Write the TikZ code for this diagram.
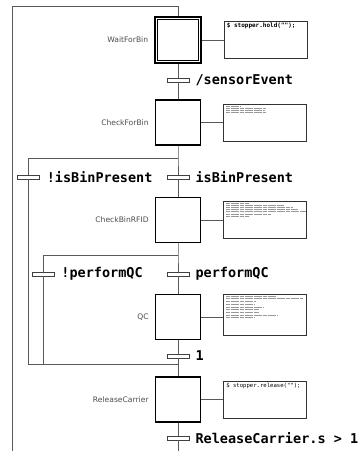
\documentclass[tikz,border=0pt]{standalone}
\usepackage{fontspec}
\setmainfont{DejaVu Sans}
\newfontfamily\monofont{DejaVu Sans Mono}
\usetikzlibrary{positioning}
\tikzset{
  stepbox/.style={
    rectangle, draw=black, line width=1.3pt,
    minimum size=45pt, inner sep=0pt, fill=white
  },
  initstep/.style={stepbox, minimum size=46pt},
  actbox/.style={
    rectangle, draw=black!80, line width=0.8pt,
    minimum width=83pt, minimum height=37pt, inner sep=0pt
  },
  trans/.style={
    rectangle, draw=black!75, line width=0.8pt, fill=white,
    minimum width=22pt, minimum height=4pt, inner sep=0pt
  },
  translabel/.style={font=\monofont\bfseries\fontsize{13.5}{14}\selectfont, inner sep=0pt},
  steplabel/.style={font=\fontsize{7.6}{8}\selectfont, text=black!70, inner sep=0pt},
  codetext/.style={anchor=north west, inner sep=0pt, font=\monofont\fontsize{5.6}{6}\selectfont},
  flow/.style={draw=black!65, line width=0.9pt},
  link/.style={draw=black!65, line width=0.8pt},
  scribble/.style={draw=black!40, line width=0.5pt, dash pattern=on 4pt off 0.6pt}
}

\begin{document}
\begin{tikzpicture}[x=1pt, y=-1pt, node distance=22pt]

  \useasboundingbox (0,0) rectangle (359,451);

  % steps
  \node[initstep] (wait) at (178,40) {};
  \node[stepbox] (checkbin) at (178,122.5) {};
  \node[stepbox] (rfid) at (178,220) {};
  \node[stepbox] (qc) at (178,317) {};
  \node[stepbox] (release) at (178,399.5) {};
  \draw[line width=1.3pt] ([shift={(3,3)}]wait.north west) rectangle ([shift={(-3,-3)}]wait.south east);

  \node[steplabel, left=6pt of wait] (waitlbl) {WaitForBin};
  \node[steplabel, left=6pt of checkbin] (checkbinlbl) {CheckForBin};
  \node[steplabel, left=6pt of rfid] (rfidlbl) {CheckBinRFID};
  \node[steplabel, left=6pt of qc] (qclbl) {QC};
  \node[steplabel, left=6pt of release] (releaselbl) {ReleaseCarrier};

  % action boxes
  \node[actbox, right=of wait] (waitact) {};
  \node[actbox, right=of checkbin] (checkact) {};
  \node[actbox, right=of rfid] (rfidact) {};
  \node[actbox, right=of qc, minimum height=41pt, yshift=2.3pt] (qcact) {};
  \node[actbox, right=of release] (releaseact) {};

  \node[codetext, font=\monofont\bfseries\fontsize{6}{7}\selectfont] (waitcode)
    at ([shift={(3,2)}]waitact.north west) {\$ stopper.hold("");};
  \node[codetext] (releasecode) at ([shift={(3,2)}]releaseact.north west) {\$ stopper.release("");};

  \foreach \len [count=\i] in {14,40,39,40}
    \draw[scribble] ([shift={(3,0.5+2*\i)}]checkact.north west) -- ++(\len,0);
  \foreach \len [count=\i] in {23,58,67,72,80,45,23}
    \draw[scribble] ([shift={(3,-0.5+2.2*\i)}]rfidact.north west) -- ++(\len,0);
  \foreach \len [count=\i] in {50,77,30,28,38,33,33,52,28}
    \draw[scribble] ([shift={(3,-0.5+2.7*\i)}]qcact.north west) -- ++(\len,0);

  % transitions
  \node[trans] (sensor) at (178,80) {};
  \node[trans] (isbin) at (178,177) {};
  \node[trans] (notbin) at (28.7,177) {};
  \node[trans] (perfqc) at (178,274) {};
  \node[trans] (notqc) at (43.3,274) {};
  \node[trans] (one) at (178,356) {};
  \node[trans] (relcond) at (178,438) {};

  \node[translabel, right=6pt of sensor] (sensorlbl) {/sensorEvent};
  \node[translabel, right=6pt of isbin] (isbinlbl) {isBinPresent};
  \node[translabel, right=6.5pt of notbin] (notbinlbl) {!isBinPresent};
  \node[translabel, right=6pt of perfqc] (perfqclbl) {performQC};
  \node[translabel, right=6.5pt of notqc] (notqclbl) {!performQC};
  \node[translabel, right=6pt of one] (onelbl) {1};
  \node[translabel, right=6pt of relcond] (relcondlbl) {ReleaseCarrier.s > 1};

  \coordinate (div1) at (178,158);
  \coordinate (div2) at (178,255);
  \coordinate (join) at (178,364);
  \coordinate (loopbot) at (178,451);
  \coordinate (loopleft) at (12,451);
  \coordinate (looptop) at (12,6);

  % connectors
  \draw[flow] (wait) -- (sensor) -- (checkbin);
  \draw[flow] (checkbin) -- (div1) -- (isbin) -- (rfid);
  \draw[flow] (div1) -| (notbin);
  \draw[flow] (notbin) -- (notbin |- join) -- (join);
  \draw[flow] (rfid) -- (div2) -- (perfqc) -- (qc);
  \draw[flow] (div2) -| (notqc);
  \draw[flow] (notqc) -- (notqc |- join);
  \draw[flow] (qc) -- (one) -- (release) -- (relcond) -- (loopbot);
  \draw[flow] (loopleft) -- (looptop) -| (wait);

  \draw[link] (wait) -- (waitact);
  \draw[link] (checkbin) -- (checkact);
  \draw[link] (rfid) -- (rfidact);
  \draw[link] (qc.east) -- (qc.east -| qcact.west);
  \draw[link] (release) -- (releaseact);

\end{tikzpicture}
\end{document}
